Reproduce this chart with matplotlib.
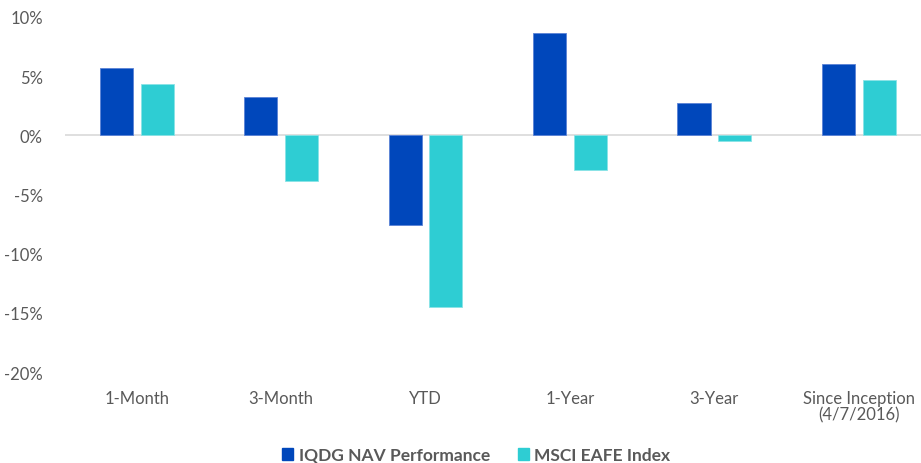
import numpy as np
import matplotlib.pyplot as plt
from matplotlib.patches import Patch

# --- data ---
categories = ["1-Month", "3-Month", "YTD", "1-Year", "3-Year", "Since Inception\n(4/7/2016)"]
iqdg_nav = [5.65, 3.2, -7.55, 8.65, 2.7, 6.0]
msci_eafe = [4.3, -3.85, -14.5, -2.9, -0.45, 4.65]
series_names = ["IQDG NAV Performance", "MSCI EAFE Index"]

blue = "#0047BB"
cyan = "#2ECDD3"
text_color = "#595959"

plt.rcParams['font.family'] = ['Lato', 'DejaVu Sans']

fig = plt.figure(figsize=(9.21, 4.64), dpi=100)
ax = fig.add_axes([65 / 921, 1 - 373 / 464, 1 - 65 / 921, (373 - 18) / 464])

x = np.arange(len(categories))
w = 0.229
off = 0.141
ax.bar(x - off, iqdg_nav, w, color=blue, edgecolor="#5a82d6", linewidth=0.6, zorder=3)
ax.bar(x + off, msci_eafe, w, color=cyan, edgecolor="#8ae3e6", linewidth=0.6, zorder=3)

ax.set_ylim(-20, 10)
ax.set_xlim(-0.497, 5.431)
ax.set_yticks(range(-20, 11, 5))
ax.set_yticklabels([f"{v}%" for v in range(-20, 11, 5)])
ax.axhline(0, color="#d9d9d9", linewidth=1.2, zorder=2)

ax.set_xticks(x)
ax.set_xticklabels(categories, linespacing=1.05)
ax.tick_params(axis='x', length=0, pad=13, labelsize=12, labelcolor=text_color)
ax.tick_params(axis='y', length=0, pad=16, labelsize=12, labelcolor=text_color)
for s in ax.spines.values():
    s.set_visible(False)

handles = [Patch(color=blue), Patch(color=cyan)]
leg = fig.legend(handles, series_names, loc="center", bbox_to_anchor=(0.517, 1 - 456 / 464),
                 ncol=2, frameon=False, handlelength=0.65, handleheight=0.65,
                 handletextpad=0.3, columnspacing=1.6,
                 prop={'weight': 'bold', 'size': 12.5})
for t in leg.get_texts():
    t.set_color(text_color)

fig.savefig("out.png", dpi=100)
